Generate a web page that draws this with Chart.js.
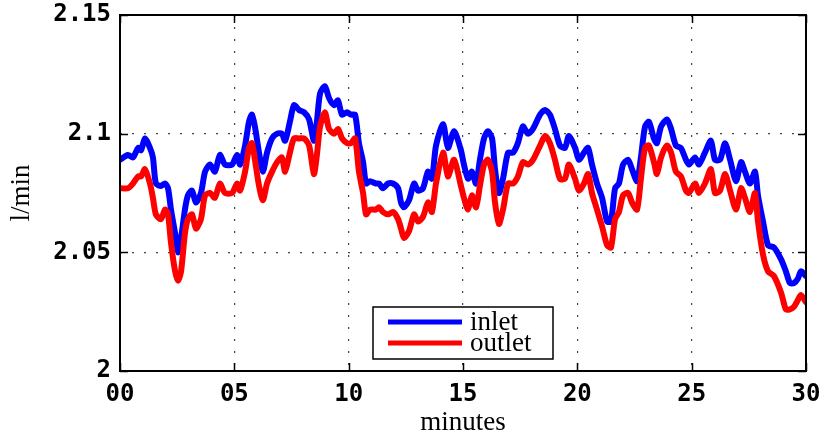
<!DOCTYPE html>
<html>
<head>
<meta charset="utf-8">
<script src="https://cdn.jsdelivr.net/npm/chart.js@4/dist/chart.umd.min.js"></script>
<style>
  html, body { margin: 0; padding: 0; background: #fff; }
  #wrap { width: 821px; height: 439px; }
</style>
</head>
<body>
<div id="wrap"><canvas id="c" width="821" height="439"></canvas></div>
<script>
// Flow rate over a 30 minute run
const minutes = [
  0.00, 0.35, 0.57, 0.79, 0.92, 1.09, 1.31, 1.44, 1.57, 1.79, 1.97, 2.10, 2.23, 2.41, 2.54, 2.67, 2.84, 2.97,
  3.15, 3.32, 3.54, 3.72, 3.94, 4.15, 4.37, 4.59, 4.90, 5.12, 5.25, 5.47, 5.64, 5.77, 5.90, 6.08, 6.25, 6.43,
  6.65, 6.87, 7.08, 7.22, 7.43, 7.61, 7.83, 8.05, 8.27, 8.48, 8.61, 8.75, 8.96, 9.14, 9.36, 9.53, 9.71, 9.93,
  10.10, 10.28, 10.45, 10.63, 10.76, 10.93, 11.19, 11.33, 11.50, 11.72, 11.94, 12.16, 12.29, 12.42, 12.64, 12.86,
  13.03, 13.25, 13.47, 13.64, 13.82, 14.13, 14.34, 14.61, 14.91, 15.04, 15.22, 15.39, 15.57, 15.74, 15.92, 16.09,
  16.27, 16.40, 16.57, 16.75, 16.97, 17.19, 17.40, 17.62, 17.84, 18.06, 18.37, 18.59, 18.80, 19.02, 19.24, 19.46,
  19.63, 19.90, 20.07, 20.29, 20.47, 20.64, 20.86, 21.08, 21.30, 21.47, 21.65, 21.82, 22.00, 22.22, 22.39, 22.61,
  22.78, 22.96, 23.13, 23.35, 23.48, 23.66, 23.92, 24.10, 24.31, 24.53, 24.75, 24.88, 25.15, 25.32, 25.58, 25.84,
  26.02, 26.24, 26.46, 26.68, 26.94, 27.16, 27.33, 27.55, 27.77, 27.90, 28.12, 28.34, 28.60, 28.91, 29.12, 29.30,
  29.47, 29.65, 29.78, 30.00
];

const inlet = [
  2.089, 2.091, 2.090, 2.094, 2.093, 2.098, 2.094, 2.090, 2.079, 2.078, 2.079, 2.077, 2.068, 2.058, 2.050, 2.056, 2.068, 2.074,
  2.076, 2.071, 2.075, 2.084, 2.087, 2.084, 2.091, 2.087, 2.087, 2.091, 2.087, 2.095, 2.105, 2.108, 2.103, 2.092, 2.084, 2.092,
  2.098, 2.100, 2.100, 2.097, 2.105, 2.112, 2.110, 2.109, 2.106, 2.097, 2.105, 2.117, 2.120, 2.115, 2.112, 2.114, 2.108, 2.109,
  2.108, 2.108, 2.096, 2.088, 2.079, 2.080, 2.079, 2.079, 2.077, 2.079, 2.079, 2.077, 2.071, 2.069, 2.072, 2.079,
  2.076, 2.077, 2.084, 2.081, 2.095, 2.104, 2.094, 2.101, 2.093, 2.087, 2.081, 2.084, 2.079, 2.089, 2.098, 2.101,
  2.098, 2.085, 2.075, 2.081, 2.092, 2.092, 2.096, 2.103, 2.100, 2.102, 2.108, 2.110, 2.108, 2.102, 2.095, 2.094,
  2.099, 2.094, 2.089, 2.092, 2.094, 2.087, 2.079, 2.073, 2.063, 2.063, 2.077, 2.079, 2.087, 2.089, 2.085, 2.080,
  2.090, 2.103, 2.105, 2.098, 2.096, 2.103, 2.106, 2.102, 2.095, 2.094, 2.089, 2.087, 2.090, 2.087, 2.092, 2.097,
  2.089, 2.089, 2.096, 2.089, 2.080, 2.088, 2.084, 2.079, 2.084, 2.074, 2.063, 2.053, 2.052, 2.047, 2.042, 2.037,
  2.037, 2.039, 2.042, 2.040
];

const outlet = [
  2.077, 2.077, 2.079, 2.082, 2.082, 2.085, 2.079, 2.073, 2.066, 2.064, 2.068, 2.066, 2.054, 2.042, 2.038, 2.042, 2.058, 2.064,
  2.066, 2.060, 2.064, 2.074, 2.075, 2.073, 2.079, 2.075, 2.075, 2.079, 2.076, 2.084, 2.094, 2.096, 2.089, 2.078, 2.072, 2.079,
  2.084, 2.088, 2.090, 2.084, 2.092, 2.098, 2.098, 2.098, 2.095, 2.083, 2.091, 2.103, 2.109, 2.102, 2.100, 2.102, 2.098, 2.096,
  2.096, 2.098, 2.084, 2.075, 2.066, 2.068, 2.068, 2.069, 2.067, 2.066, 2.067, 2.064, 2.060, 2.056, 2.059, 2.066,
  2.063, 2.065, 2.071, 2.067, 2.079, 2.092, 2.082, 2.089, 2.078, 2.073, 2.068, 2.074, 2.069, 2.078, 2.087, 2.089,
  2.084, 2.071, 2.062, 2.068, 2.079, 2.079, 2.082, 2.088, 2.087, 2.089, 2.095, 2.099, 2.096, 2.089, 2.081, 2.081,
  2.087, 2.081, 2.076, 2.079, 2.083, 2.075, 2.068, 2.061, 2.053, 2.052, 2.064, 2.067, 2.074, 2.075, 2.071, 2.068,
  2.081, 2.094, 2.095, 2.088, 2.083, 2.090, 2.095, 2.092, 2.084, 2.082, 2.076, 2.075, 2.079, 2.075, 2.079, 2.085,
  2.075, 2.076, 2.083, 2.076, 2.068, 2.077, 2.073, 2.067, 2.075, 2.063, 2.049, 2.042, 2.040, 2.033, 2.026, 2.026,
  2.027, 2.030, 2.032, 2.029
];

const xTicks = [0, 5, 10, 15, 20, 25, 30];
const xTickLabels = ['00', '05', '10', '15', '20', '25', '30'];
const yTicks = [2, 2.05, 2.1, 2.15];
const yTickLabels = ['2', '2.05', '2.1', '2.15'];

const seriesNames = ['inlet', 'outlet'];
const seriesColors = ['#0000ff', '#ff0000'];

const tickFont = { family: '"DejaVu Sans Mono", monospace', size: 24, weight: 'bold' };
const titleFont = { family: '"Liberation Serif", "Times New Roman", serif', size: 27 };

function toPoints(xs, ys) {
  return xs.map((x, i) => ({ x: x, y: ys[i] }));
}

// Box frame, inward tick marks and the legend box inside the plot
const framePlugin = {
  id: 'frame',
  afterDraw(chart) {
    const { ctx, chartArea: a, scales } = chart;
    const tl = 8;
    ctx.save();
    ctx.strokeStyle = '#000';
    ctx.lineWidth = 1.5;
    ctx.beginPath();
    xTicks.forEach(v => {
      const px = Math.round(scales.x.getPixelForValue(v)) + 0.5;
      ctx.moveTo(px, a.bottom); ctx.lineTo(px, a.bottom - tl);
      ctx.moveTo(px, a.top); ctx.lineTo(px, a.top + tl);
    });
    yTicks.forEach(v => {
      const py = Math.round(scales.y.getPixelForValue(v)) + 0.5;
      ctx.moveTo(a.left, py); ctx.lineTo(a.left + tl, py);
      ctx.moveTo(a.right, py); ctx.lineTo(a.right - tl, py);
    });
    ctx.stroke();
    ctx.lineWidth = 2;
    ctx.strokeRect(a.left, a.top, a.right - a.left, a.bottom - a.top);

    // legend
    const bx = 373, by = 307, bw = 180, bh = 52;
    ctx.fillStyle = '#fff';
    ctx.fillRect(bx, by, bw, bh);
    ctx.lineWidth = 1.5;
    ctx.strokeStyle = '#000';
    ctx.strokeRect(bx, by, bw, bh);
    ctx.font = titleFont.size + 'px ' + titleFont.family;
    ctx.textBaseline = 'middle';
    ctx.textAlign = 'left';
    seriesNames.forEach((name, i) => {
      const ly = by + 15 + i * 21;
      ctx.strokeStyle = seriesColors[i];
      ctx.lineWidth = 5;
      ctx.beginPath();
      ctx.moveTo(bx + 15, ly);
      ctx.lineTo(bx + 89, ly);
      ctx.stroke();
      ctx.fillStyle = '#000';
      ctx.fillText(name, bx + 97, ly + 1);
    });
    ctx.restore();
  }
};

new Chart(document.getElementById('c'), {
  type: 'line',
  data: {
    datasets: [
      {
        label: seriesNames[0],
        data: toPoints(minutes, inlet),
        borderColor: seriesColors[0],
        borderWidth: 6,
        pointRadius: 0,
        tension: 0.25,
        borderJoinStyle: 'round',
        borderCapStyle: 'round',
        fill: false,
        order: 1
      },
      {
        label: seriesNames[1],
        data: toPoints(minutes, outlet),
        borderColor: seriesColors[1],
        borderWidth: 6,
        pointRadius: 0,
        tension: 0.25,
        borderJoinStyle: 'round',
        borderCapStyle: 'round',
        fill: false,
        order: 0
      }
    ]
  },
  options: {
    responsive: false,
    animation: false,
    events: [],
    layout: { padding: { left: 0, right: 15, top: 15, bottom: 0 } },
    plugins: { legend: { display: false }, tooltip: { enabled: false } },
    scales: {
      x: {
        type: 'linear',
        min: 0,
        max: 30,
        afterBuildTicks(scale) { scale.ticks = xTicks.map(v => ({ value: v })); },
        afterFit(scale) {
          scale.height = 68;
          scale.paddingLeft = 0;
          scale.paddingRight = 0;
        },
        ticks: {
          autoSkip: false,
          maxRotation: 0,
          color: '#000',
          font: tickFont,
          padding: 9,
          callback: (v, i) => xTickLabels[i]
        },
        grid: {
          drawTicks: false,
          color: '#444',
          lineWidth: 1.2,
          tickLength: 0
        },
        border: { display: false, dash: [2, 10] },
        title: { display: true, text: 'minutes', color: '#000', font: titleFont, padding: { top: 0, bottom: 0 } }
      },
      y: {
        type: 'linear',
        min: 2,
        max: 2.15,
        afterBuildTicks(scale) { scale.ticks = yTicks.map(v => ({ value: v })); },
        afterFit(scale) {
          scale.width = 120;
          scale.paddingTop = 0;
          scale.paddingBottom = 0;
        },
        ticks: {
          autoSkip: false,
          color: '#000',
          font: tickFont,
          padding: 9,
          callback: (v, i) => yTickLabels[i]
        },
        grid: {
          drawTicks: false,
          color: '#444',
          lineWidth: 1.2,
          tickLength: 0
        },
        border: { display: false, dash: [2, 10] },
        title: { display: true, text: 'l/min', color: '#000', font: titleFont, padding: { top: 6, bottom: 0 } }
      }
    }
  },
  plugins: [framePlugin]
});
</script>
</body>
</html>
